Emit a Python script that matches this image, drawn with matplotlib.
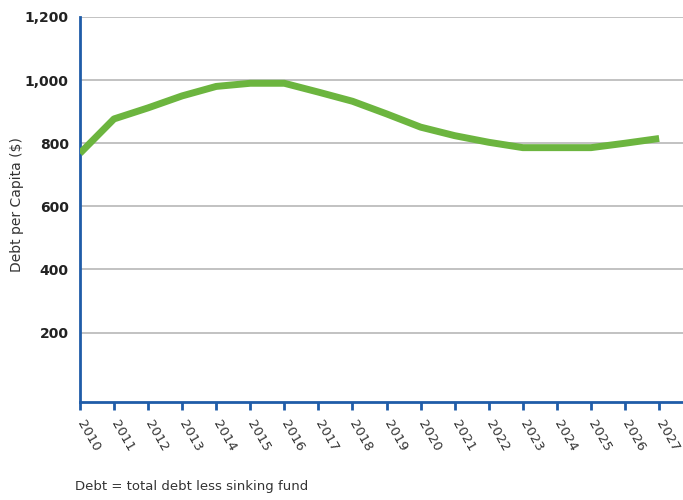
import matplotlib
matplotlib.use("Agg")
import matplotlib.pyplot as plt
from matplotlib.ticker import FuncFormatter

years = list(range(2010, 2028))
debt_per_capita = [768, 877, 912, 950, 980, 990, 990, 962, 933, 893,
                   851, 824, 803, 786, 786, 786, 800, 815]
y_ticks = [200, 400, 600, 800, 1000, 1200]

green = "#6cb53f"
blue = "#1f5ca8"

fig = plt.figure(figsize=(6.83, 5.0), dpi=100)
ax = fig.add_axes([0.117, 0.196, 0.883, 0.77])

ax.plot(years, debt_per_capita, color=green, lw=5, solid_capstyle="butt",
        solid_joinstyle="round", zorder=3)

for s in ["top", "right"]:
    ax.spines[s].set_visible(False)
for s in ["left", "bottom"]:
    ax.spines[s].set_color(blue)
    ax.spines[s].set_linewidth(2)

ax.set_xlim(2010, 2027.7)
ax.set_ylim(-20, 1200)
ax.set_yticks(y_ticks)
ax.yaxis.set_major_formatter(FuncFormatter(lambda v, p: f"{int(v):,}"))
ax.set_xticks(years)
ax.set_xticklabels([str(y) for y in years], rotation=-60, ha="left",
                   va="center", rotation_mode="anchor", fontsize=9.5,
                   color="#333333")

ax.grid(axis="y", color="#bdbdbd", lw=1.3)
ax.set_axisbelow(True)

ax.tick_params(axis="y", length=0, pad=8, labelsize=10, labelcolor="#222222")
for lbl in ax.get_yticklabels():
    lbl.set_fontweight("bold")
ax.tick_params(axis="x", direction="out", length=6, width=2, color=blue, pad=8)

ax.set_ylabel("Debt per Capita ($)", fontsize=10, color="#333333")
ax.yaxis.set_label_coords(-0.092, 0.512)

fig.text(0.11, 0.02, "Debt = total debt less sinking fund", fontsize=9.5,
         color="#333333")

fig.savefig("out.png", dpi=100)
